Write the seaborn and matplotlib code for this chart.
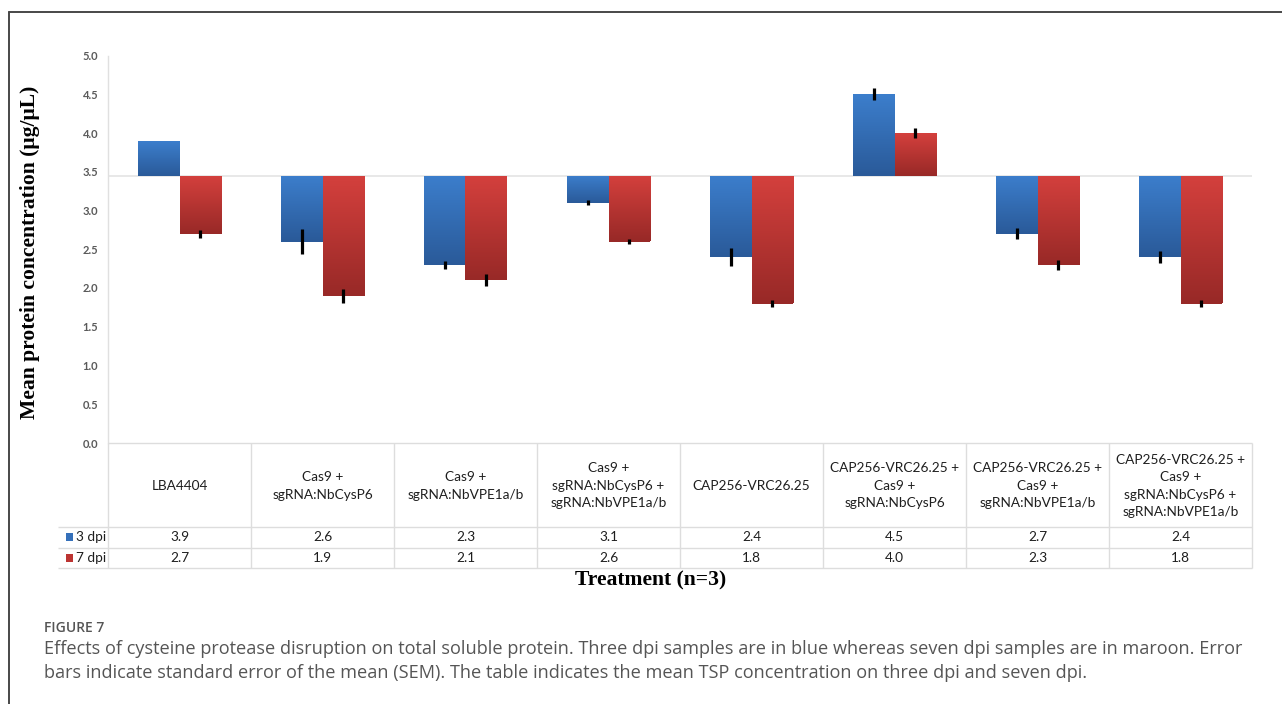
import numpy as np
import pandas as pd
import matplotlib
matplotlib.use("Agg")
import matplotlib.pyplot as plt
import seaborn as sns
from matplotlib.patches import Rectangle
from matplotlib.lines import Line2D
from matplotlib.colors import LinearSegmentedColormap

# ---- data -------------------------------------------------------------
treatments = [
    "LBA4404",
    "Cas9 +\nsgRNA:NbCysP6",
    "Cas9 +\nsgRNA:NbVPE1a/b",
    "Cas9 +\nsgRNA:NbCysP6 +\nsgRNA:NbVPE1a/b",
    "CAP256-VRC26.25",
    "CAP256-VRC26.25 +\nCas9 +\nsgRNA:NbCysP6",
    "CAP256-VRC26.25 +\nCas9 +\nsgRNA:NbVPE1a/b",
    "CAP256-VRC26.25 +\nCas9 +\nsgRNA:NbCysP6 +\nsgRNA:NbVPE1a/b",
]
series_names = ["3 dpi", "7 dpi"]
mean_3dpi = [3.9, 2.6, 2.3, 3.1, 2.4, 4.5, 2.7, 2.4]
mean_7dpi = [2.7, 1.9, 2.1, 2.6, 1.8, 4.0, 2.3, 1.8]
sem_3dpi = [0.0, 0.16, 0.05, 0.03, 0.12, 0.075, 0.07, 0.08]
sem_7dpi = [0.05, 0.09, 0.08, 0.03, 0.04, 0.07, 0.065, 0.04]
y_ticks = [0.0, 0.5, 1.0, 1.5, 2.0, 2.5, 3.0, 3.5, 4.0, 4.5, 5.0]
axis_crossing = 3.45  # bars grow from the horizontal axis crossing value

# ---- styling ----------------------------------------------------------
sns.set_style("white")
plt.rcParams["font.family"] = ["Lato", "DejaVu Sans"]

W, H = 1282, 704
fig = plt.figure(figsize=(W / 100, H / 100), dpi=100)
fig.patch.set_facecolor("white")

def fx(px):
    return px / W

def fy(py):
    return 1 - py / H

left_px, right_px, top_px, bottom_px = 108, 1252, 55.5, 443
ax = fig.add_axes([fx(left_px), fy(bottom_px), fx(right_px - left_px),
                   (bottom_px - top_px) / H])

blue, red = "#3570BA", "#BC3432"
grad_colors = {
    "3 dpi": ("#3C7ECC", "#2A5A99"),
    "7 dpi": ("#D4403D", "#982927"),
}

df = pd.DataFrame({
    "treatment": treatments * 2,
    "dpi": [series_names[0]] * len(treatments) + [series_names[1]] * len(treatments),
    "mean": mean_3dpi + mean_7dpi,
})
df["delta"] = df["mean"] - axis_crossing

sns.barplot(data=df, x="treatment", y="delta", hue="dpi", order=treatments,
            hue_order=series_names, palette=[blue, red], width=0.575,
            errorbar=None, legend=False, ax=ax, linewidth=0, zorder=3)

# gradient fill + error bars on each bar
for name, cont, sems in zip(series_names, ax.containers, [sem_3dpi, sem_7dpi]):
    top_c, bot_c = grad_colors[name]
    cmap = LinearSegmentedColormap.from_list(name, [top_c, bot_c])
    grad = np.linspace(0, 1, 128).reshape(-1, 1)
    xs, tips = [], []
    for bar in cont:
        x0, w = bar.get_x(), bar.get_width()
        y_a, y_b = bar.get_y(), bar.get_y() + bar.get_height()
        lo, hi = min(y_a, y_b), max(y_a, y_b)
        bar.set_facecolor(bot_c)
        im = ax.imshow(grad, cmap=cmap, extent=(x0, x0 + w, lo, hi),
                       origin="upper", aspect="auto", interpolation="bilinear", zorder=3.2)
        im.set_clip_path(bar)
        xs.append(x0 + w / 2)
        tips.append(y_b)
    ax.errorbar(xs, tips, yerr=sems, fmt="none", ecolor="black", elinewidth=2.3,
                capsize=0, zorder=4)

ax.set_xlim(-0.5, len(treatments) - 0.5)
ax.set_ylim(y_ticks[0] - axis_crossing, y_ticks[-1] - axis_crossing)
ax.set_yticks([t - axis_crossing for t in y_ticks], labels=[f"{t:.1f}" for t in y_ticks])
ax.axhline(0, color="#E4E4E4", lw=1.2, zorder=1)
ax.set_xticks([])
ax.set_xlabel("")
ax.set_ylabel("")
for s in ["top", "right", "bottom"]:
    ax.spines[s].set_visible(False)
ax.spines["left"].set_color("#E0E0E0")
ax.spines["left"].set_linewidth(1.0)
ax.tick_params(axis="y", length=0, pad=7, labelsize=8, labelcolor="#5A5A5A")
for lab in ax.get_yticklabels():
    lab.set_fontweight("bold")
ax.set_facecolor("white")

# ---- data table under the plot ---------------------------------------
tbl_top, tbl_bottom = 443, 568
hdr_h, row_h = 84, 20.5
tax = fig.add_axes([fx(left_px), fy(tbl_bottom), fx(right_px - left_px),
                    (tbl_bottom - tbl_top) / H])
tax.set_xlim(-0.5, len(treatments) - 0.5)
tax.set_ylim(tbl_bottom - tbl_top, 0)
tax.axis("off")
col_px = (right_px - left_px) / len(treatments)
lab_left = -0.5 - 50 / col_px
grid_c = "#DDDDDD"
n = len(treatments)
tax.hlines(0, -0.5, n - 0.5, color=grid_c, lw=1.0, clip_on=False)
for yy in [hdr_h, hdr_h + row_h, hdr_h + 2 * row_h]:
    tax.hlines(yy, lab_left, n - 0.5, color=grid_c, lw=1.0, clip_on=False)
for xx in np.arange(-0.5, n, 1.0):
    tax.vlines(xx, 0, hdr_h + 2 * row_h, color=grid_c, lw=1.0, clip_on=False)

txt_kw = dict(ha="center", va="center", fontsize=9.8, color="#1E1E1E")
for i, t in enumerate(treatments):
    tax.text(i, hdr_h / 2 + 1, t, multialignment="center", linespacing=1.55, **txt_kw)
    tax.text(i, hdr_h + row_h / 2, f"{mean_3dpi[i]:.1f}", **txt_kw)
    tax.text(i, hdr_h + row_h * 1.5, f"{mean_7dpi[i]:.1f}", **txt_kw)

for k, (name, col) in enumerate(zip(series_names, [blue, red])):
    yc = hdr_h + row_h * (k + 0.5)
    tax.add_patch(Rectangle((-0.5 - 42 / col_px, yc - 4), 7 / col_px, 8,
                            facecolor=col, edgecolor="none", clip_on=False))
    tax.text(-0.5 - 32 / col_px, yc, name, ha="left", va="center",
             fontsize=9.8, color="#1E1E1E", clip_on=False)

# ---- axis titles ------------------------------------------------------
fig.text(fx(30), fy(252), "Mean protein concentration (μg/μL)", rotation=90,
         ha="center", va="center", fontsize=15.6, fontweight="bold",
         family=["Liberation Serif", "DejaVu Serif"], color="black")
fig.text(fx(651), fy(580), "Treatment (n=3)", ha="center", va="center",
         fontsize=15.6, fontweight="bold",
         family=["Liberation Serif", "DejaVu Serif"], color="black")

# ---- caption ----------------------------------------------------------
cap_kw = dict(ha="left", va="center", family=["Open Sans", "DejaVu Sans"], color="#555555")
fig.text(fx(44), fy(628), "FIGURE 7", fontsize=10, fontweight="semibold", **cap_kw)
fig.text(fx(44), fy(649),
         "Effects of cysteine protease disruption on total soluble protein. Three dpi samples "
         "are in blue whereas seven dpi samples are in maroon. Error",
         fontsize=13.1, **cap_kw)
fig.text(fx(44), fy(673),
         "bars indicate standard error of the mean (SEM). The table indicates the mean TSP "
         "concentration on three dpi and seven dpi.",
         fontsize=13.1, **cap_kw)

# ---- outer frame ------------------------------------------------------
frame_kw = dict(color="#474747", lw=1.4, transform=fig.transFigure)
fig.add_artist(Line2D([fx(9), fx(9)], [0, fy(12)], **frame_kw))
fig.add_artist(Line2D([fx(9), 1], [fy(12), fy(12)], **frame_kw))

fig.savefig("out.png", dpi=100, facecolor="white")
